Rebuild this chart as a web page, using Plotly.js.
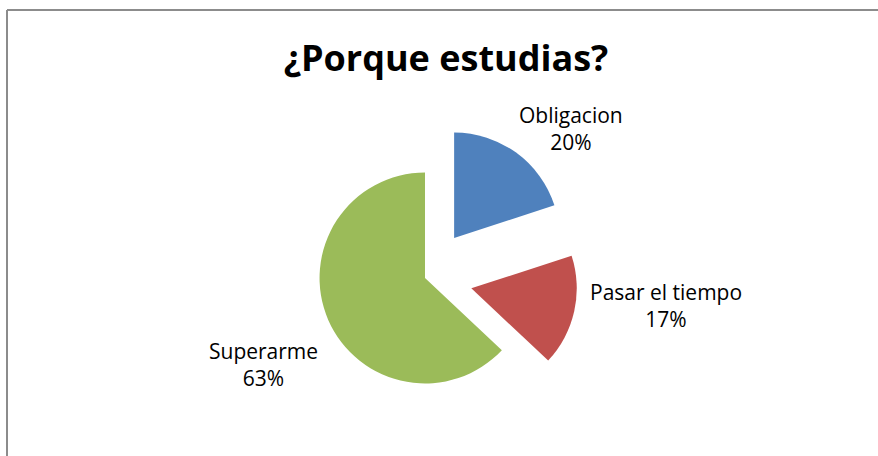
<!DOCTYPE html>
<html>
<head>
<meta charset="utf-8">
<script src="https://cdn.plot.ly/plotly-3.0.1.min.js"></script>
<style>html,body{margin:0;padding:0;background:#fff;}#chart{width:878px;height:456px;}</style>
</head>
<body>
<div id="chart"></div>
<script>
const categories = ["Obligacion", "Pasar el tiempo", "Superarme"];
const values = [20, 17, 63];
const colors = ["#4F81BD", "#C0504D", "#9BBB59"];
const pulls = [0.47, 0.45, 0];
const chartTitle = "¿Porque estudias?";

// label placement (layout only)
const labelPos = [
  {x: 571, y: 128},
  {x: 666, y: 305},
  {x: 263, y: 364}
];

const W = 878, H = 456;
const total = values.reduce((a, b) => a + b, 0);

const annotations = categories.map((c, i) => ({
  text: c + "<br>" + Math.round(values[i] / total * 100) + "%",
  x: labelPos[i].x / W, y: 1 - labelPos[i].y / H,
  xref: "paper", yref: "paper", xanchor: "center", yanchor: "middle",
  showarrow: false, align: "center",
  font: {family: "Open Sans, sans-serif", size: 21, color: "#000"}
}));

const trace = {
  type: "pie",
  labels: categories,
  values: values,
  sort: false,
  direction: "clockwise",
  rotation: 0,
  pull: pulls,
  marker: {colors: colors, line: {width: 0}},
  textinfo: "none",
  hoverinfo: "label+percent",
  showlegend: false,
  domain: {x: [270 / W, 580 / W], y: [23 / H, 333 / H]}
};

const layout = {
  width: W, height: H,
  margin: {l: 0, r: 0, t: 0, b: 0},
  paper_bgcolor: "#fff",
  showlegend: false,
  title: {
    text: "<b>" + chartTitle + "</b>",
    x: 446 / W, xanchor: "center",
    y: 1 - 58 / H, yanchor: "middle",
    font: {family: "Open Sans, sans-serif", size: 36, color: "#000"}
  },
  annotations: annotations,
  shapes: [
    {type: "line", xref: "paper", yref: "paper",
     x0: 7 / W, x1: 1, y0: 1 - 10 / H, y1: 1 - 10 / H,
     line: {color: "#8c8c8c", width: 2}},
    {type: "line", xref: "paper", yref: "paper",
     x0: 7 / W, x1: 7 / W, y0: 0, y1: 1 - 10 / H,
     line: {color: "#8c8c8c", width: 2}}
  ]
};

Plotly.newPlot("chart", [trace], layout, {displayModeBar: false, staticPlot: true});
</script>
</body>
</html>
